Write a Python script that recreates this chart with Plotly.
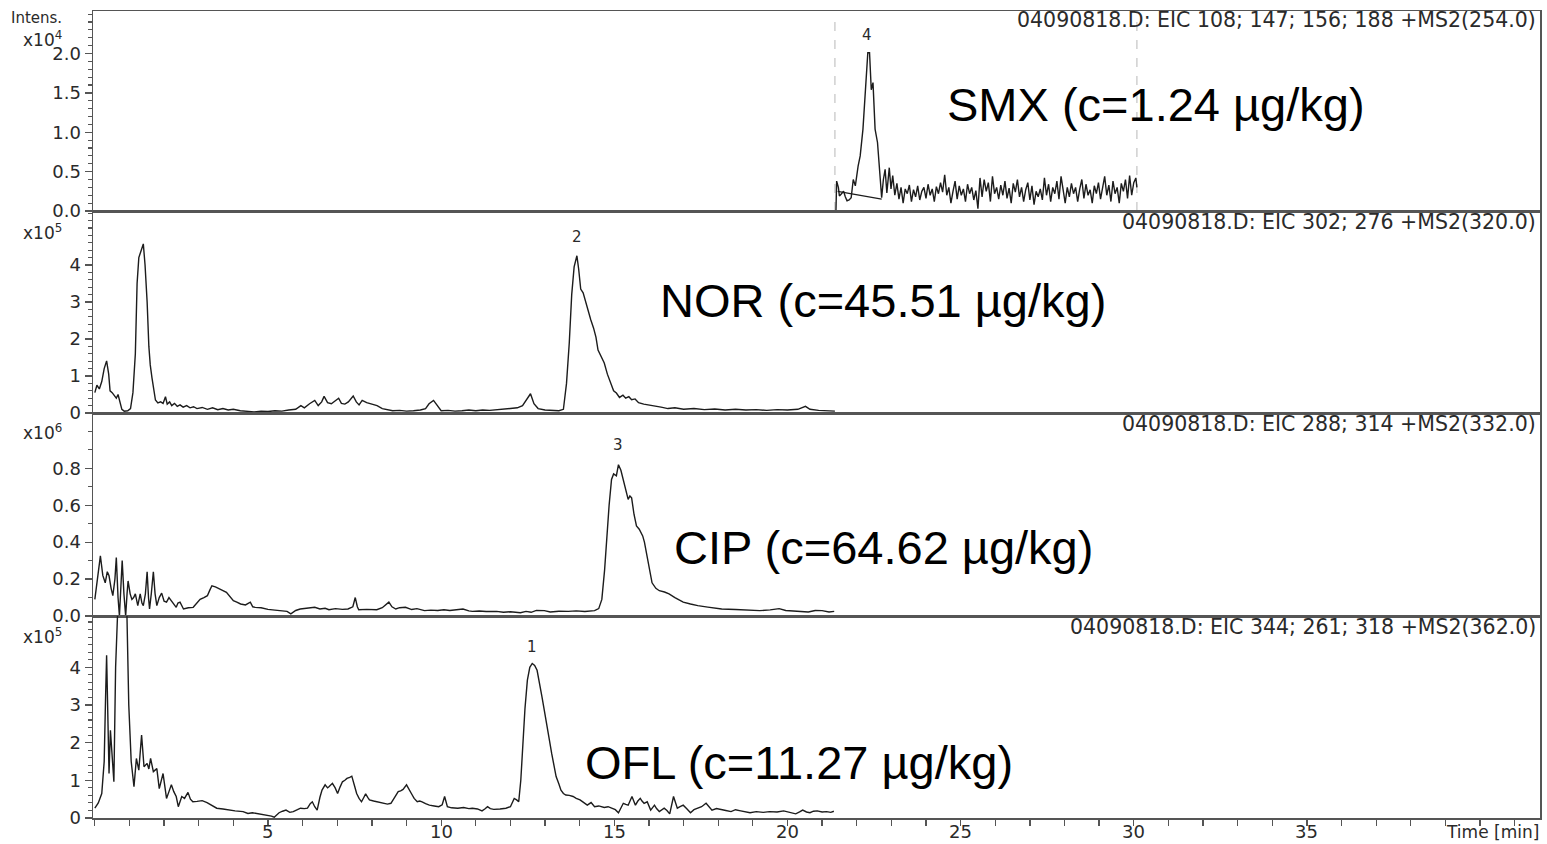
import plotly.graph_objects as go

# ---------------- DATA ----------------
# SMX (EIC 108;147;156;188 +MS2(254.0)), intensity in units of 1e4
smx_time = [21.40, 21.42, 21.47, 21.50, 21.56, 21.62, 21.67, 21.72, 21.78, 21.84, 21.90, 21.96,
            22.04, 22.10, 22.18, 22.25, 22.30, 22.32, 22.37, 22.42, 22.47, 22.53, 22.60, 22.66,
            22.72, 22.77, 22.82, 22.87, 22.94, 22.99, 23.04,
            23.10, 23.16, 23.22, 23.28, 23.34, 23.40, 23.46, 23.52, 23.58, 23.64, 23.70, 23.76,
            23.82, 23.88, 23.94, 24.00, 24.06, 24.12, 24.18, 24.24, 24.30, 24.36, 24.42, 24.48,
            24.54, 24.60, 24.66, 24.72, 24.78, 24.84, 24.90, 24.96, 25.02, 25.08, 25.14, 25.20,
            25.26, 25.32, 25.38, 25.44, 25.50, 25.56, 25.62, 25.68, 25.74, 25.80, 25.86, 25.92,
            25.98, 26.04, 26.10, 26.16, 26.22, 26.28, 26.34, 26.40, 26.46, 26.52, 26.58, 26.64,
            26.70, 26.76, 26.82, 26.88, 26.94, 27.00, 27.06, 27.12, 27.18, 27.24, 27.30, 27.36,
            27.42, 27.48, 27.54, 27.60, 27.66, 27.72, 27.78, 27.84, 27.90, 27.96, 28.02, 28.08,
            28.14, 28.20, 28.26, 28.32, 28.38, 28.44, 28.50, 28.56, 28.62, 28.68, 28.74, 28.80,
            28.86, 28.92, 28.98, 29.04, 29.10, 29.16, 29.22, 29.28, 29.34, 29.40, 29.46, 29.52,
            29.58, 29.64, 29.70, 29.76, 29.82, 29.88, 29.94, 30.00, 30.06, 30.09]
smx_int = [0.00, 0.38, 0.30, 0.19, 0.22, 0.25, 0.18, 0.13, 0.14, 0.17, 0.40, 0.32,
           0.57, 0.70, 1.04, 1.46, 1.80, 2.01, 2.01, 1.54, 1.63, 1.04, 0.87, 0.53,
           0.17, 0.40, 0.53, 0.23, 0.55, 0.28, 0.45,
           0.20, 0.35, 0.15, 0.30, 0.10, 0.28, 0.22, 0.33, 0.12, 0.27, 0.18, 0.32,
           0.14, 0.25, 0.30, 0.16, 0.34, 0.20, 0.28, 0.12, 0.31, 0.22, 0.36, 0.24,
           0.46, 0.20, 0.30, 0.10, 0.25, 0.38, 0.15, 0.32, 0.20, 0.28, 0.12, 0.34,
           0.22, 0.30, 0.14, 0.26, 0.03, 0.42, 0.18, 0.40, 0.25, 0.36, 0.12, 0.44,
           0.22, 0.30, 0.15, 0.33, 0.20, 0.38, 0.16, 0.29, 0.10, 0.35, 0.24, 0.40,
           0.18, 0.30, 0.12, 0.27, 0.36, 0.14, 0.32, 0.08, 0.25, 0.18, 0.28, 0.14,
           0.42, 0.20, 0.34, 0.12, 0.30, 0.22, 0.38, 0.15, 0.44, 0.25, 0.10, 0.30,
           0.18, 0.35, 0.22, 0.30, 0.12, 0.28, 0.40, 0.16, 0.34, 0.20, 0.27, 0.10,
           0.32, 0.22, 0.36, 0.15, 0.30, 0.44, 0.20, 0.33, 0.12, 0.38, 0.22, 0.30,
           0.10, 0.35, 0.25, 0.40, 0.16, 0.45, 0.20, 0.36, 0.42, 0.30]
smx_baseline_time = [21.45, 22.72]
smx_baseline_int = [0.25, 0.15]
smx_segment_bounds = [21.37, 30.09]

# NOR (EIC 302;276 +MS2(320.0)), intensity in units of 1e5
nor_time = [0.00, 0.06, 0.13, 0.20, 0.27, 0.34, 0.40, 0.44, 0.50, 0.56, 0.62, 0.67, 0.72, 0.78,
            0.85, 0.95, 1.03, 1.10, 1.17, 1.22, 1.27, 1.34, 1.40, 1.45, 1.51, 1.56, 1.60, 1.65,
            1.70, 1.75, 1.82, 1.90, 1.97, 2.04, 2.09, 2.16, 2.22, 2.30, 2.38, 2.46, 2.55, 2.65,
            2.75, 2.85, 2.95, 3.10, 3.25, 3.40, 3.55, 3.70, 3.85, 4.00, 4.20, 4.40, 4.60, 4.80,
            5.00, 5.20, 5.40, 5.60, 5.80, 5.95, 6.05, 6.20, 6.35, 6.45, 6.55, 6.62, 6.72, 6.83,
            6.93, 7.04, 7.12, 7.22, 7.32, 7.46, 7.55, 7.63, 7.72, 7.85, 8.00, 8.15, 8.30, 8.45,
            8.60, 8.80, 9.00, 9.20, 9.40, 9.55, 9.65, 9.78, 9.88, 10.00, 10.20, 10.40, 10.60,
            10.80, 11.00, 11.20, 11.40, 11.60, 11.80, 12.00, 12.20, 12.35, 12.48, 12.58, 12.68,
            12.80, 13.00, 13.20, 13.40, 13.53, 13.62, 13.70, 13.77, 13.84, 13.92, 13.97, 14.03,
            14.10, 14.17, 14.25, 14.32, 14.40, 14.47, 14.53, 14.62, 14.71, 14.80, 14.90, 14.98,
            15.06, 15.15, 15.25, 15.33, 15.42, 15.50, 15.60, 15.70, 15.85, 16.00, 16.16, 16.35,
            16.55, 16.75, 17.00, 17.30, 17.60, 17.90, 18.20, 18.50, 18.80, 19.10, 19.40, 19.70,
            20.00, 20.30, 20.52, 20.65, 20.90, 21.10, 21.37]
nor_int = [0.55, 0.75, 0.65, 0.85, 1.20, 1.41, 1.05, 0.60, 0.55, 0.48, 0.40, 0.50, 0.28, 0.10,
           0.05, 0.06, 0.12, 0.55, 1.60, 3.50, 4.20, 4.40, 4.57, 4.00, 3.00, 1.80, 1.30, 0.95,
           0.70, 0.35, 0.27, 0.30, 0.26, 0.44, 0.24, 0.30, 0.20, 0.26, 0.18, 0.22, 0.16, 0.20,
           0.14, 0.17, 0.12, 0.15, 0.10, 0.14, 0.09, 0.12, 0.08, 0.10, 0.06, 0.05, 0.03, 0.05,
           0.04, 0.06, 0.05, 0.08, 0.10, 0.20, 0.14, 0.25, 0.34, 0.20, 0.30, 0.45, 0.28, 0.25,
           0.32, 0.40, 0.26, 0.24, 0.30, 0.46, 0.30, 0.22, 0.34, 0.28, 0.24, 0.20, 0.12, 0.08,
           0.06, 0.07, 0.05, 0.06, 0.08, 0.12, 0.25, 0.34, 0.20, 0.06, 0.07, 0.05, 0.06,
           0.08, 0.06, 0.08, 0.07, 0.09, 0.10, 0.12, 0.14, 0.20, 0.40, 0.52, 0.25,
           0.12, 0.08, 0.07, 0.06, 0.10, 0.80, 1.90, 3.20, 3.95, 4.25, 3.90, 3.35,
           3.25, 3.00, 2.70, 2.52, 2.30, 2.05, 1.70, 1.50, 1.35, 1.05, 0.78, 0.60,
           0.54, 0.42, 0.48, 0.40, 0.44, 0.36, 0.38, 0.28, 0.24, 0.22, 0.18, 0.16,
           0.12, 0.14, 0.10, 0.12, 0.09, 0.11, 0.08, 0.10, 0.08, 0.09, 0.07, 0.09,
           0.08, 0.10, 0.18, 0.10, 0.07, 0.06, 0.05]

# CIP (EIC 288;314 +MS2(332.0)), intensity in units of 1e6
cip_time = [0.00, 0.08, 0.16, 0.23, 0.30, 0.36, 0.41, 0.47, 0.52, 0.58, 0.62, 0.67, 0.71, 0.75,
            0.79, 0.84, 0.89, 0.93, 0.96, 1.02, 1.07, 1.12, 1.17, 1.24, 1.31, 1.36, 1.40, 1.46,
            1.51, 1.55, 1.58, 1.63, 1.69, 1.74, 1.79, 1.86, 1.93, 2.00, 2.07, 2.14, 2.21, 2.28,
            2.35, 2.40, 2.46, 2.56, 2.70, 2.84, 2.95, 3.04, 3.15, 3.25, 3.32, 3.38, 3.48, 3.59,
            3.70, 3.80, 3.90, 4.00, 4.10, 4.21, 4.35, 4.49, 4.56, 4.63, 4.80, 5.00, 5.20, 5.40,
            5.55, 5.66, 5.80, 5.93, 6.10, 6.35, 6.50, 6.65, 6.76, 6.95, 7.15, 7.31, 7.45, 7.52,
            7.58, 7.62, 7.85, 8.00, 8.14, 8.30, 8.40, 8.49, 8.58, 8.69, 8.80, 8.97, 9.15, 9.30,
            9.52, 9.70, 9.90, 10.08, 10.25, 10.45, 10.63, 10.80, 10.90, 11.10, 11.30, 11.60,
            11.80, 12.00, 12.29, 12.45, 12.60, 12.75, 12.98, 13.15, 13.40, 13.67, 13.90, 14.15,
            14.43, 14.55, 14.64, 14.72, 14.78, 14.85, 14.92, 14.98, 15.06, 15.12, 15.19, 15.26,
            15.33, 15.40, 15.45, 15.50, 15.57, 15.64, 15.72, 15.78, 15.82, 15.87, 15.91, 15.98,
            16.04, 16.09, 16.20, 16.30, 16.45, 16.58, 16.75, 16.99, 17.20, 17.41, 17.70, 18.10,
            18.50, 18.90, 19.20, 19.50, 19.76, 19.95, 20.31, 20.60, 20.80, 21.00, 21.20, 21.35]
cip_int = [0.090, 0.200, 0.326, 0.220, 0.180, 0.240, 0.218, 0.150, 0.110, 0.200, 0.317, 0.100,
           0.000, 0.150, 0.300, 0.120, 0.000, 0.120, 0.190, 0.120, 0.090, 0.100, 0.120, 0.056,
           0.120, 0.070, 0.056, 0.120, 0.240, 0.100, 0.038, 0.120, 0.240, 0.120, 0.056, 0.100,
           0.124, 0.080, 0.075, 0.100, 0.083, 0.060, 0.047, 0.070, 0.075, 0.038, 0.045, 0.047,
           0.070, 0.090, 0.100, 0.110, 0.140, 0.164, 0.158, 0.150, 0.138, 0.128, 0.105, 0.083,
           0.075, 0.065, 0.060, 0.075, 0.050, 0.047, 0.045, 0.036, 0.032, 0.030, 0.025, 0.012,
           0.030, 0.038, 0.040, 0.047, 0.038, 0.042, 0.034, 0.040, 0.036, 0.038, 0.050, 0.100,
           0.050, 0.034, 0.036, 0.034, 0.034, 0.045, 0.060, 0.075, 0.050, 0.038, 0.045, 0.047,
           0.035, 0.040, 0.029, 0.032, 0.030, 0.034, 0.030, 0.036, 0.038, 0.028, 0.025, 0.027,
           0.024, 0.025, 0.020, 0.023, 0.018, 0.025, 0.020, 0.030, 0.029, 0.022, 0.026, 0.025,
           0.028, 0.024, 0.029, 0.040, 0.090, 0.250, 0.416, 0.600, 0.740, 0.770, 0.760, 0.820,
           0.790, 0.740, 0.680, 0.632, 0.650, 0.640, 0.550, 0.488, 0.470, 0.450, 0.434, 0.400,
           0.362, 0.280, 0.220, 0.180, 0.150, 0.137, 0.130, 0.120, 0.100, 0.075, 0.065, 0.056,
           0.048, 0.038, 0.035, 0.030, 0.029, 0.033, 0.040, 0.030, 0.025, 0.022, 0.030, 0.029,
           0.022, 0.025]

# OFL (EIC 344;261;318 +MS2(362.0)), intensity in units of 1e5
ofl_time = [0.00, 0.10, 0.20, 0.27, 0.31, 0.34, 0.38, 0.41, 0.45, 0.50, 0.55, 0.60, 0.63, 0.70,
            0.80, 0.88, 0.93, 0.98, 1.05, 1.13, 1.20, 1.27, 1.35, 1.42, 1.51, 1.56, 1.61, 1.69,
            1.79, 1.86, 1.97, 2.07, 2.14, 2.21, 2.28, 2.35, 2.41, 2.51, 2.59, 2.69, 2.76, 2.83,
            2.95, 3.10, 3.24, 3.38, 3.52, 3.70, 3.87, 4.05, 4.28, 4.42, 4.55, 4.70, 4.85, 4.97,
            5.10, 5.18, 5.25, 5.32, 5.42, 5.52, 5.63, 5.73, 5.85, 5.94, 6.05, 6.14, 6.22, 6.28,
            6.35, 6.42, 6.50, 6.56, 6.65, 6.72, 6.76, 6.86, 6.94, 7.01, 7.08, 7.15, 7.22, 7.28,
            7.36, 7.42, 7.50, 7.56, 7.63, 7.70, 7.77, 7.82, 7.88, 7.93, 8.05, 8.14, 8.25, 8.35,
            8.45, 8.55, 8.65, 8.76, 8.83, 8.90, 9.00, 9.07, 9.14, 9.22, 9.31, 9.38, 9.45, 9.55,
            9.66, 9.80, 9.93, 10.03, 10.10, 10.18, 10.30, 10.48, 10.65, 10.80, 10.90, 11.05,
            11.18, 11.26, 11.34, 11.42, 11.52, 11.70, 11.87, 12.00, 12.11, 12.18, 12.24, 12.30,
            12.35, 12.42, 12.49, 12.56, 12.63, 12.70, 12.77, 12.84, 12.91, 12.98, 13.05, 13.12,
            13.19, 13.25, 13.32, 13.40, 13.46, 13.53, 13.60, 13.70, 13.81, 13.90, 14.01, 14.10,
            14.22, 14.33, 14.43, 14.55, 14.71, 14.82, 14.92, 15.03, 15.12, 15.20, 15.26, 15.33,
            15.40, 15.51, 15.61, 15.68, 15.75, 15.80, 15.86, 15.95, 16.05, 16.16, 16.22, 16.30,
            16.44, 16.52, 16.60, 16.71, 16.82, 16.90, 16.99, 17.10, 17.20, 17.30, 17.41, 17.52,
            17.65, 17.74, 17.82, 17.95, 18.10, 18.22, 18.37, 18.50, 18.65, 18.78, 18.92, 19.10,
            19.30, 19.48, 19.70, 19.89, 20.05, 20.24, 20.35, 20.44, 20.55, 20.65, 20.75, 20.86,
            21.00, 21.13, 21.25, 21.34]
ofl_int = [0.26, 0.40, 0.65, 1.50, 3.20, 4.32, 2.50, 1.18, 2.33, 1.60, 0.96, 4.00, 7.50, 9.00,
           9.00, 7.50, 5.60, 3.00, 1.50, 0.83, 1.58, 1.27, 2.20, 1.36, 1.45, 1.30, 1.58, 1.23,
           1.31, 0.78, 1.18, 0.52, 0.70, 0.88, 0.70, 0.57, 0.30, 0.57, 0.52, 0.68, 0.50, 0.43,
           0.44, 0.46, 0.41, 0.34, 0.26, 0.24, 0.21, 0.19, 0.17, 0.12, 0.14, 0.12, 0.10, 0.08,
           0.05, 0.02, 0.08, 0.14, 0.18, 0.21, 0.15, 0.17, 0.22, 0.26, 0.25, 0.26, 0.38, 0.43,
           0.30, 0.21, 0.55, 0.74, 0.88, 0.80, 0.83, 0.92, 0.80, 0.65, 0.82, 0.96, 1.00, 1.05,
           1.08, 1.11, 0.85, 0.65, 0.52, 0.43, 0.55, 0.64, 0.55, 0.48, 0.45, 0.43, 0.40, 0.39,
           0.37, 0.39, 0.55, 0.70, 0.72, 0.76, 0.88, 0.75, 0.65, 0.52, 0.43, 0.45, 0.43, 0.38,
           0.34, 0.32, 0.30, 0.35, 0.57, 0.30, 0.27, 0.26, 0.28, 0.25, 0.26, 0.24,
           0.19, 0.24, 0.30, 0.25, 0.23, 0.24, 0.26, 0.30, 0.52, 0.48, 0.43, 1.00,
           1.89, 2.90, 3.66, 4.00, 4.10, 4.05, 3.92, 3.60, 3.22, 2.85, 2.51, 2.10,
           1.72, 1.40, 1.10, 0.90, 0.74, 0.65, 0.61, 0.60, 0.57, 0.52, 0.48, 0.42,
           0.34, 0.41, 0.30, 0.32, 0.28, 0.30, 0.26, 0.22, 0.14, 0.28, 0.39, 0.36,
           0.34, 0.57, 0.34, 0.45, 0.52, 0.45, 0.39, 0.43, 0.21, 0.34, 0.25, 0.17,
           0.26, 0.20, 0.11, 0.57, 0.26, 0.30, 0.34, 0.24, 0.14, 0.22, 0.26, 0.30,
           0.39, 0.28, 0.21, 0.25, 0.23, 0.20, 0.17, 0.22, 0.19, 0.16, 0.14, 0.17,
           0.15, 0.17, 0.16, 0.19, 0.15, 0.11, 0.16, 0.21, 0.16, 0.14, 0.18, 0.19,
           0.16, 0.17, 0.15, 0.18]

headers = ["04090818.D: EIC 108; 147; 156; 188 +MS2(254.0)",
           "04090818.D: EIC 302; 276 +MS2(320.0)",
           "04090818.D: EIC 288; 314 +MS2(332.0)",
           "04090818.D: EIC 344; 261; 318 +MS2(362.0)"]
compound_labels = ["SMX (c=1.24 µg/kg)", "NOR (c=45.51 µg/kg)",
                   "CIP (c=64.62 µg/kg)", "OFL (c=11.27 µg/kg)"]
exponents = ["4", "5", "6", "5"]
peak_numbers = ["4", "2", "3", "1"]
peak_label_pos = [(22.30, 2.10), (13.92, 4.45), (15.10, 0.865), (12.62, 4.25)]
label_pos = [(24.55, 1.354), (16.26, 3.03), (16.66, 0.373), (14.09, 1.46)]

y_ranges = [[0, 2.54], [0, 5.46], [0, 1.10], [0, 5.36]]
y_tickvals = [[0, 0.5, 1.0, 1.5, 2.0], [0, 1, 2, 3, 4], [0, 0.2, 0.4, 0.6, 0.8], [0, 1, 2, 3, 4]]
y_ticktext = [["0.0", "0.5", "1.0", "1.5", "2.0"], ["0", "1", "2", "3", "4"],
              ["0.0", "0.2", "0.4", "0.6", "0.8"], ["0", "1", "2", "3", "4"]]
y_minor = [0.1, 0.2, 0.1, 0.2]
x_tickvals = [5, 10, 15, 20, 25, 30, 35]
x_ticktext = ["5", "10", "15", "20", "25", "30", "35"]

# ---------------- FIGURE ----------------
LINE = "#1c1c1c"
FRAME = "#555555"
TXT = "#2a2a2a"
TICKFONT = dict(family="DejaVu Sans", size=18, color=TXT)

W, H = 1547, 844
ML, MR, MT, MB = 93, 7, 11, 26
PW, PH = W - ML - MR, H - MT - MB
bounds_px = [11, 211, 413, 616, 818]


def py(ypx):
    return (H - MB - ypx) / PH


def px(xpx):
    return (xpx - ML) / PW


fig = go.Figure()
series = [(smx_time, smx_int), (nor_time, nor_int), (cip_time, cip_int), (ofl_time, ofl_int)]
for i, (t, v) in enumerate(series):
    k = "" if i == 0 else str(i + 1)
    fig.add_trace(go.Scatter(x=t, y=v, mode="lines", line=dict(color=LINE, width=1.4),
                             xaxis="x" + k, yaxis="y" + k, showlegend=False, hoverinfo="skip"))
fig.add_trace(go.Scatter(x=smx_baseline_time, y=smx_baseline_int, mode="lines",
                         line=dict(color=LINE, width=1.2), xaxis="x", yaxis="y",
                         showlegend=False, hoverinfo="skip"))

layout = dict(width=W, height=H, margin=dict(l=ML, r=MR, t=MT, b=MB, autoexpand=False),
              paper_bgcolor="white", plot_bgcolor="white",
              font=dict(family="DejaVu Sans", color=TXT))

for i in range(4):
    k = "" if i == 0 else str(i + 1)
    dom = [py(bounds_px[i + 1]), py(bounds_px[i])]
    xa = dict(domain=[0, 1], anchor="y" + k, range=[-0.053, 41.73], showline=True, mirror=True,
              linecolor=FRAME, linewidth=1.5, showgrid=False, zeroline=False, automargin=False,
              showticklabels=False)
    if i == 3:
        xa.update(tickvals=x_tickvals, ticks="outside", ticklen=6, tickcolor=FRAME, tickwidth=1.3,
                  minor=dict(dtick=1, tick0=0, ticks="outside", ticklen=6, tickcolor=FRAME,
                             tickwidth=1.3, showgrid=False))
    else:
        xa.update(matches="x4", ticks="")
    ya = dict(domain=dom, anchor="x" + k, range=y_ranges[i], tickvals=y_tickvals[i],
              ticktext=y_ticktext[i], ticks="outside", ticklen=7, tickcolor=FRAME, tickwidth=1.3,
              tickfont=TICKFONT, showline=True, mirror=True, linecolor=FRAME, linewidth=1.5,
              showgrid=False, zeroline=False, automargin=False,
              minor=dict(dtick=y_minor[i], tick0=0, ticks="outside", ticklen=4, tickcolor=FRAME,
                         tickwidth=1.1, showgrid=False))
    layout["xaxis" + k] = xa
    layout["yaxis" + k] = ya

annotations = []
shapes = []
header_y = [20, 222, 424, 627]
exp_y = [39, 232, 432, 636]
for i in range(4):
    k = "" if i == 0 else str(i + 1)
    annotations.append(dict(text=headers[i], xref="paper", yref="paper", x=px(1538), y=py(header_y[i]),
                            xanchor="right", yanchor="middle", showarrow=False,
                            font=dict(family="DejaVu Sans", size=20.5, color=TXT)))
    annotations.append(dict(text="x10<sup>" + exponents[i] + "</sup>", xref="paper", yref="paper",
                            x=px(64), y=py(exp_y[i]), xanchor="right", yanchor="middle",
                            showarrow=False, font=dict(family="DejaVu Sans", size=17, color=TXT)))
    annotations.append(dict(text=peak_numbers[i], xref="x" + k, yref="y" + k,
                            x=peak_label_pos[i][0], y=peak_label_pos[i][1], xanchor="center",
                            yanchor="bottom", showarrow=False,
                            font=dict(family="DejaVu Sans", size=15, color=TXT)))
    annotations.append(dict(text=compound_labels[i], xref="x" + k, yref="y" + k,
                            x=label_pos[i][0], y=label_pos[i][1], xanchor="left", yanchor="middle",
                            showarrow=False,
                            font=dict(family="Liberation Sans, Arial", size=47, color="black")))

# x-axis tick labels (placed just below the bottom axis, as in the reference)
for tv, tt in zip(x_tickvals, x_ticktext):
    annotations.append(dict(text=tt, xref="x4", yref="paper", x=tv, y=py(832),
                            xanchor="center", yanchor="middle", showarrow=False,
                            font=dict(family="DejaVu Sans", size=18, color=TXT)))

annotations.append(dict(text="Intens.", xref="paper", yref="paper", x=px(64), y=py(18),
                        xanchor="right", yanchor="middle", showarrow=False,
                        font=dict(family="DejaVu Sans", size=15, color=TXT)))
annotations.append(dict(text="Time [min]", xref="paper", yref="paper", x=px(1541), y=py(832),
                        xanchor="right", yanchor="middle", showarrow=False,
                        font=dict(family="DejaVu Sans", size=17, color=TXT)))

for tb in smx_segment_bounds:
    shapes.append(dict(type="line", xref="x", yref="y domain", x0=tb, x1=tb, y0=0, y1=0.98,
                       line=dict(color="#c8c8c8", width=1.3, dash="dash"), layer="below"))

layout["annotations"] = annotations
layout["shapes"] = shapes
fig.update_layout(**layout)
fig.write_html("out.html", config={"displayModeBar": False, "staticPlot": True},
               post_script="document.body.style.margin='0';")
